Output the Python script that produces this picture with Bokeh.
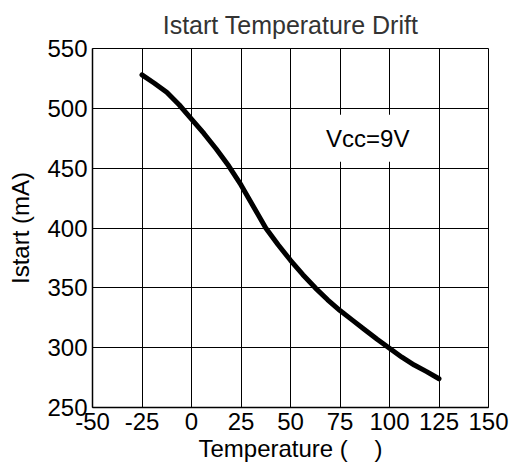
from bokeh.plotting import figure
from bokeh.models import Label, Range1d, FixedTicker
from bokeh.embed import file_html
from bokeh.resources import INLINE

# Data
temperature = [-25, -18.75, -12.5, -6.25, 0, 6.25, 12.5, 18.75, 25, 31.25, 37.5, 43.75,
               50, 56.25, 62.5, 68.75, 75, 81.25, 87.5, 93.75, 100, 106.25, 112.5, 118.75, 125]
istart_ma = [528, 521, 513.5, 503, 491, 479, 466, 452, 436, 418, 400, 386,
             373, 361, 350, 340, 331, 323, 315, 307, 299.5, 292, 285.5, 280, 274]

x_ticks = [-50, -25, 0, 25, 50, 75, 100, 125, 150]
y_ticks = [250, 300, 350, 400, 450, 500, 550]

title_text = "Istart Temperature Drift"
x_label_text = "Temperature (\u00a0\u00a0\u00a0\u00a0)"
y_label_text = "Istart (mA)"
note_text = "Vcc=9V"

FONT = "Liberation Sans"

p = figure(width=512, height=466, output_backend="svg", toolbar_location=None,
           x_range=Range1d(-50, 150), y_range=Range1d(250, 550),
           min_border_left=92, min_border_right=24, min_border_top=48, min_border_bottom=59,
           title=title_text)

p.title.text_font = FONT
p.title.text_font_size = "25px"
p.title.text_font_style = "normal"
p.title.text_color = "#333333"
p.title.align = "center"
p.title.vertical_align = "top"
p.title.standoff = 16

p.background_fill_color = "white"
p.border_fill_color = "white"
p.outline_line_color = "black"
p.outline_line_width = 1

for ax in (p.xaxis[0], p.yaxis[0]):
    ax.major_tick_in = 0
    ax.major_tick_out = 0
    ax.minor_tick_in = 0
    ax.minor_tick_out = 0
    ax.axis_line_color = "black"
    ax.axis_line_width = 1.5
    ax.major_label_text_font = FONT
    ax.major_label_text_font_size = "24px"
    ax.major_label_text_color = "black"
    ax.axis_label_text_font = FONT
    ax.axis_label_text_font_size = "24px"
    ax.axis_label_text_font_style = "normal"
    ax.axis_label_text_color = "black"

p.xaxis[0].ticker = FixedTicker(ticks=x_ticks)
p.yaxis[0].ticker = FixedTicker(ticks=y_ticks)
p.xaxis[0].major_label_overrides = {t: str(t) for t in x_ticks}
p.xaxis[0].major_label_standoff = 5
p.yaxis[0].major_label_standoff = 5
p.xaxis[0].axis_label = x_label_text
p.yaxis[0].axis_label = y_label_text
p.xaxis[0].axis_label_standoff = 2
p.yaxis[0].axis_label_standoff = 10

for g in (p.xgrid[0], p.ygrid[0]):
    g.grid_line_color = "black"
    g.grid_line_width = 1
    g.grid_line_alpha = 1.0
p.xgrid[0].ticker = FixedTicker(ticks=x_ticks)
p.ygrid[0].ticker = FixedTicker(ticks=y_ticks)

p.line(temperature, istart_ma, line_color="black", line_width=5,
       line_join="round", line_cap="round")

p.add_layout(Label(x=89, y=475, text=note_text, text_align="center", text_baseline="middle",
                   text_font=FONT, text_font_size="24px", text_color="black",
                   background_fill_color="white", padding=10))

open("out.html", "w").write(file_html(p, INLINE))
